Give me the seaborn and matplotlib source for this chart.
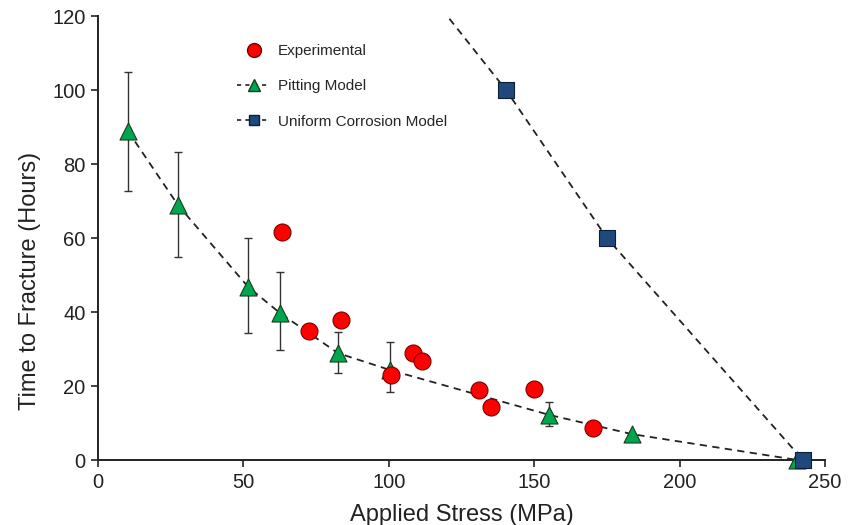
import pandas as pd
import matplotlib
matplotlib.use("Agg")
import matplotlib.pyplot as plt
import seaborn as sns
from matplotlib.lines import Line2D

# Data
exp_stress = [63.3, 72.6, 83.6, 100.8, 108.3, 111.4, 131.0, 135.1, 149.9, 170.2]
exp_time = [61.6, 34.9, 37.8, 23.0, 28.9, 26.8, 18.9, 14.3, 19.2, 8.6]

pit_stress = [10.3, 27.5, 51.6, 62.6, 82.5, 100.5, 155.1, 183.6, 240.5]
pit_time = [88.9, 68.9, 46.8, 39.7, 28.9, 24.3, 12.2, 7.0, 0.0]
pit_err_hi = [105.0, 83.3, 59.9, 50.7, 34.6, 31.9, 15.8, 7.0, 0.0]
pit_err_lo = [72.7, 54.8, 34.4, 29.8, 23.4, 18.3, 9.2, 7.0, 0.0]

uni_stress = [140.3, 175.0, 242.4]
uni_time = [100.0, 60.0, 0.0]
uni_top_stress = 112.0  # line continues above the top of the axis
uni_top_time = 128.0

sns.set_style("ticks")
plt.rcParams['font.family'] = ['Liberation Sans', 'DejaVu Sans']

fig = plt.figure(figsize=(8.55, 5.25), dpi=100)
ax = fig.add_axes([0.1146, 0.1238, 0.8504, 0.8457])

green = "#00a64f"
red = "#ff0000"
navy = "#1f497d"
ink = "#222222"

# error bars of the pitting model
lo = [t - l for t, l in zip(pit_time, pit_err_lo)]
hi = [h - t for t, h in zip(pit_time, pit_err_hi)]
ax.errorbar(pit_stress, pit_time, yerr=[lo, hi], fmt="none", ecolor="#333333",
            elinewidth=1, capsize=3, capthick=1, zorder=2)

# dashed lines
pit_line = pd.DataFrame({"x": pit_stress, "y": pit_time})
sns.lineplot(data=pit_line, x="x", y="y", ax=ax, color=ink, linestyle=(0, (4, 3)),
             linewidth=1.3, sort=False, zorder=3)
uni_line = pd.DataFrame({"x": [uni_top_stress] + uni_stress, "y": [uni_top_time] + uni_time})
sns.lineplot(data=uni_line, x="x", y="y", ax=ax, color=ink, linestyle=(0, (4, 3)),
             linewidth=1.3, sort=False, zorder=3)

# markers
sns.scatterplot(x=pit_stress, y=pit_time, ax=ax, marker="^", s=150, color=green,
                edgecolor="#1a3d1a", linewidth=0.8, zorder=4, clip_on=False)
sns.scatterplot(x=uni_stress, y=uni_time, ax=ax, marker="s", s=130, color=navy,
                edgecolor="#0d1f33", linewidth=0.8, zorder=5, clip_on=False)
sns.scatterplot(x=exp_stress, y=exp_time, ax=ax, marker="o", s=150, color=red,
                edgecolor="#7a0000", linewidth=0.8, zorder=6)

ax.set_xlim(0, 250)
ax.set_ylim(0, 120)
ax.set_xticks(range(0, 251, 50))
ax.set_yticks(range(0, 121, 20))
ax.tick_params(axis="both", labelsize=14.5, length=5, width=1.2, direction="out",
               colors=ink, pad=4)
ax.set_xlabel("Applied Stress (MPa)", fontsize=17, color=ink, labelpad=9)
ax.set_ylabel("Time to Fracture (Hours)", fontsize=17, color=ink)
ax.yaxis.set_label_coords(-0.078, 0.403)
for side in ["left", "bottom"]:
    ax.spines[side].set_linewidth(1.4)
    ax.spines[side].set_color(ink)
sns.despine(ax=ax)

# legend
handles = [
    Line2D([], [], marker="o", linestyle="none", markersize=10, markerfacecolor=red,
           markeredgecolor="#7a0000"),
    Line2D([], [], marker="^", color=ink, linestyle=(0, (2.5, 2.5)), markersize=8,
           markerfacecolor=green, markeredgecolor="#1a3d1a", linewidth=1.2),
    Line2D([], [], marker="s", color=ink, linestyle=(0, (2.5, 2.5)), markersize=7.5,
           markerfacecolor=navy, markeredgecolor="#0d1f33", linewidth=1.2),
]
labels = ["Experimental", "Pitting Model", "Uniform Corrosion Model"]
ax.legend(handles, labels, loc="upper left", bbox_to_anchor=(0.172, 0.968), frameon=False,
          fontsize=11, handlelength=2.2, labelspacing=1.4, handletextpad=0.5)

fig.savefig("out.png", dpi=100)
